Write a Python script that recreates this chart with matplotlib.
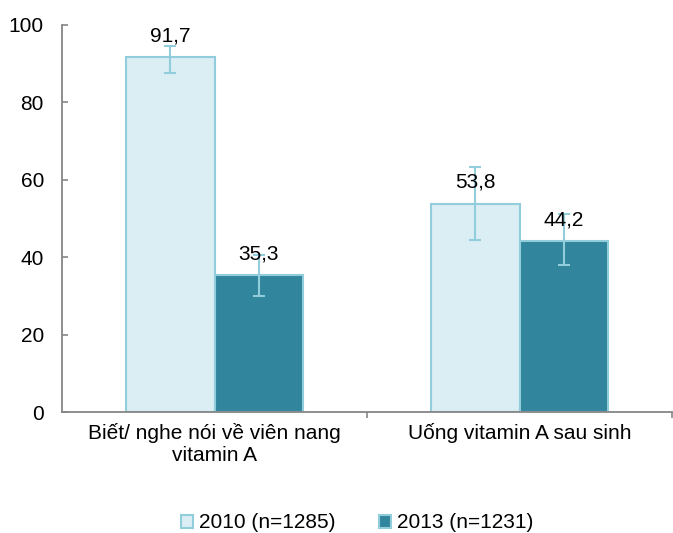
import numpy as np
import matplotlib.pyplot as plt

plt.rcParams['font.family'] = ['Liberation Sans', 'DejaVu Sans']

categories = ["Biết/ nghe nói về viên nang\nvitamin A", "Uống vitamin A sau sinh"]
series_names = ["2010 (n=1285)", "2013 (n=1231)"]
values_2010 = [91.7, 53.8]
values_2013 = [35.3, 44.2]
low_2010 = [87.6, 44.4]
high_2010 = [94.6, 63.3]
low_2013 = [29.9, 38.0]
high_2013 = [40.6, 51.2]

light = "#DAEEF3"
dark = "#31859C"
edge = "#92CDDC"
axis_grey = "#868686"
fs = 15

fig = plt.figure(figsize=(6.73, 5.33), dpi=100)
ax = fig.add_axes([62 / 673, 1 - 412 / 533, 610 / 673, 387 / 533])

x = np.arange(len(categories))
w = 0.29
offsets = [-w / 2, w / 2]

for off, vals, lo, hi, col, name in [
    (offsets[0], values_2010, low_2010, high_2010, light, series_names[0]),
    (offsets[1], values_2013, low_2013, high_2013, dark, series_names[1]),
]:
    vals = np.array(vals)
    err = [vals - np.array(lo), np.array(hi) - vals]
    ax.bar(x + off, vals, w, color=col, edgecolor=edge, linewidth=1.5, label=name, zorder=2)
    ax.errorbar(x + off, vals, yerr=err, fmt="none", ecolor=edge, elinewidth=1.5,
                capsize=4.3, capthick=1.5, zorder=3)
    for xi, v in zip(x + off, vals):
        ax.annotate(f"{v:.1f}".replace(".", ","), (xi, v), xytext=(0, 8.5),
                    textcoords="offset points", ha="center", va="bottom",
                    fontsize=fs, zorder=4)

ax.set_xlim(-0.5, 1.5)
ax.set_ylim(0, 100)
ax.set_yticks(np.arange(0, 101, 20))
ax.tick_params(axis="y", direction="in", length=4, width=1.2, color=axis_grey,
               labelsize=fs, pad=13)
ax.set_xticks(x)
ax.set_xticklabels(categories, fontsize=fs)
ax.tick_params(axis="x", length=0, pad=8)
ax.set_xticks([0.5, 1.5], minor=True)
ax.tick_params(axis="x", which="minor", direction="out", length=4, width=1.2, color=axis_grey)
for s in ["top", "right"]:
    ax.spines[s].set_visible(False)
for s in ["left", "bottom"]:
    ax.spines[s].set_color(axis_grey)
    ax.spines[s].set_linewidth(1.3)

leg = fig.legend(loc="center", bbox_to_anchor=(357 / 673, 1 - 523 / 533), ncol=2,
                 frameon=False, fontsize=fs, handlelength=0.6, handleheight=0.6,
                 handletextpad=0.25, columnspacing=2.1)

fig.savefig("out.png", dpi=100)
